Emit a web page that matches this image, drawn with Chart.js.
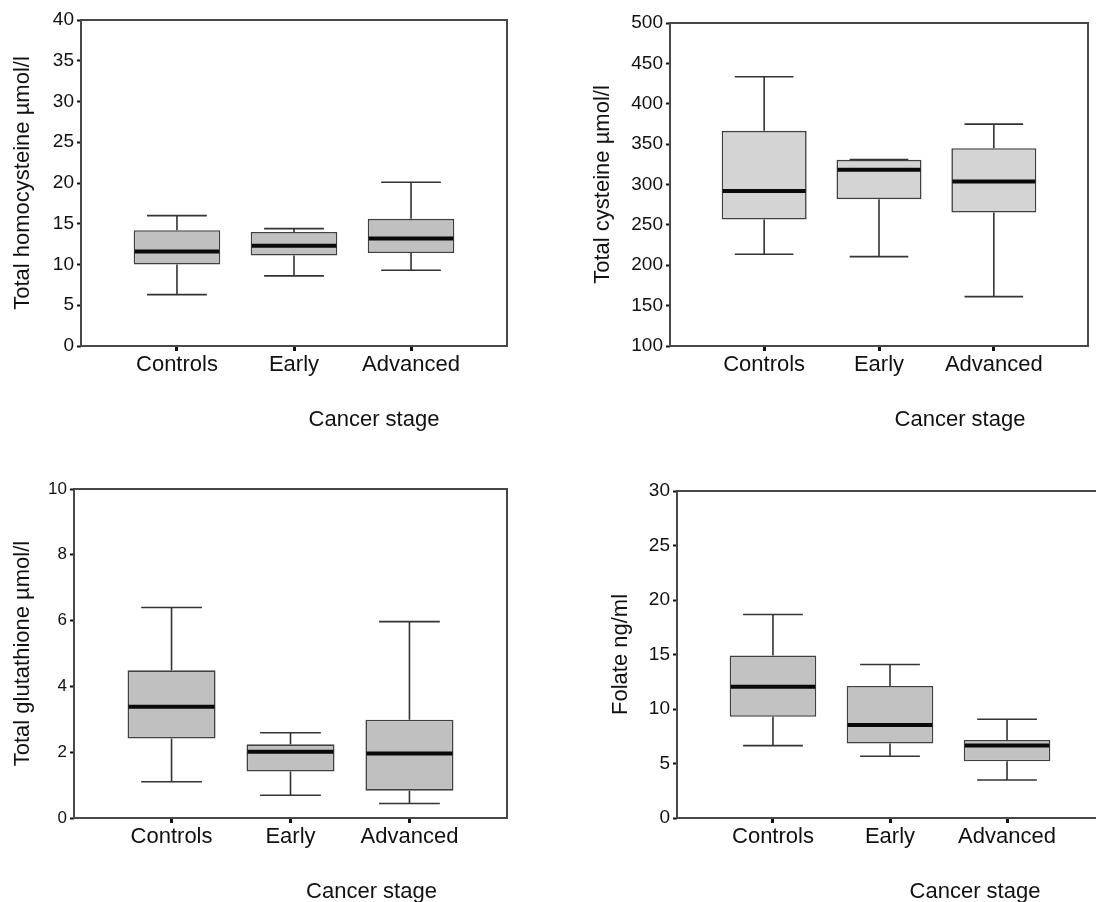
<!DOCTYPE html>
<html>
<head>
<meta charset="utf-8">
<title>Cancer stage box plots</title>
<script src="https://cdn.jsdelivr.net/npm/chart.js@4.4.1/dist/chart.umd.min.js"></script>
<style>
    html, body { margin: 0; padding: 0; background: #fff; width: 1096px; height: 902px; overflow: hidden; position: relative; }
    canvas { position: absolute; }
</style>
</head>
<body>
<canvas id="homocysteineChart" width="548" height="440" style="left:0px;top:0px"></canvas>
<canvas id="cysteineChart" width="540" height="440" style="left:560px;top:0px"></canvas>
<canvas id="glutathioneChart" width="548" height="462" style="left:0px;top:440px"></canvas>
<canvas id="folateChart" width="560" height="462" style="left:560px;top:440px"></canvas>
<script>
var stages = ['Controls', 'Early', 'Advanced'];

// whisker low, Q1, median, Q3, whisker high per stage
var hcyLow = [6.3, 8.6, 9.3];
var hcyQ1 = [10.0, 11.1, 11.4];
var hcyMedian = [11.6, 12.3, 13.2];
var hcyQ3 = [14.2, 14.0, 15.6];
var hcyHigh = [16.0, 14.4, 20.1];

var cysLow = [213.6, 210.7, 161.2];
var cysQ1 = [256.6, 281.8, 265.3];
var cysMedian = [292.1, 318.2, 303.7];
var cysQ3 = [366.5, 330.6, 345.0];
var cysHigh = [433.5, 331.0, 374.8];

var gshLow = [1.10, 0.69, 0.44];
var gshQ1 = [2.42, 1.41, 0.83];
var gshMedian = [3.38, 2.01, 1.96];
var gshQ3 = [4.49, 2.24, 2.99];
var gshHigh = [6.40, 2.59, 5.97];

var folLow = [6.64, 5.66, 3.49];
var folQ1 = [9.28, 6.83, 5.20];
var folMedian = [12.03, 8.54, 6.64];
var folQ3 = [14.91, 12.12, 7.16];
var folHigh = [18.67, 14.08, 9.06];

var fontFamily = "'Liberation Sans', Arial, Helvetica, sans-serif";
var textColor = '#111';

// whiskers, caps, median and the frame, all placed from the bar elements and the y scale
var boxWhiskers = {
    id: 'boxWhiskers',
    beforeDatasetsDraw: function(chart) {
        var a = chart.chartArea;
        var ctx = chart.ctx;
        ctx.save();
        ctx.strokeStyle = '#484848';
        ctx.lineWidth = 2;
        ctx.strokeRect(a.left, a.top, a.right - a.left, a.bottom - a.top);
        ctx.restore();
    },
    afterDatasetsDraw: function(chart) {
        var ds = chart.data.datasets[0];
        var meta = chart.getDatasetMeta(0);
        var yScale = chart.scales.y;
        var ctx = chart.ctx;
        ctx.save();
        meta.data.forEach(function(bar, i) {
            var half = bar.width / 2;
            var cap = half * 0.69;
            var yLow = yScale.getPixelForValue(ds.whiskerLow[i]);
            var yQ1 = yScale.getPixelForValue(ds.data[i].y[0]);
            var yQ3 = yScale.getPixelForValue(ds.data[i].y[1]);
            var yHigh = yScale.getPixelForValue(ds.whiskerHigh[i]);
            var yMed = yScale.getPixelForValue(ds.median[i]);

            ctx.strokeStyle = '#333';
            ctx.lineWidth = 1.6;
            ctx.beginPath();
            ctx.moveTo(bar.x, yQ3);
            ctx.lineTo(bar.x, yHigh);
            ctx.moveTo(bar.x - cap, yHigh);
            ctx.lineTo(bar.x + cap, yHigh);
            ctx.moveTo(bar.x, yQ1);
            ctx.lineTo(bar.x, yLow);
            ctx.moveTo(bar.x - cap, yLow);
            ctx.lineTo(bar.x + cap, yLow);
            ctx.stroke();

            ctx.strokeStyle = '#0a0a0a';
            ctx.lineWidth = 4;
            ctx.beginPath();
            ctx.moveTo(bar.x - half + 1, yMed);
            ctx.lineTo(bar.x + half - 1, yMed);
            ctx.stroke();
        });
        ctx.restore();
    },
    afterDraw: function(chart, args, options) {
        var a = chart.chartArea;
        var ctx = chart.ctx;
        ctx.save();
        ctx.fillStyle = textColor;
        ctx.font = '22px ' + fontFamily;
        ctx.textAlign = 'center';
        ctx.textBaseline = 'middle';
        ctx.fillText(options.text, (a.left + a.right) / 2 + options.offsetX, a.bottom + options.offsetY);
        ctx.restore();
    }
};

function createBoxChart(canvasId, p) {
    var ctx = document.getElementById(canvasId).getContext('2d');
    var edge = 0.82;
    new Chart(ctx, {
        type: 'bar',
        data: {
            datasets: [{
                label: p.title,
                data: p.q1.map(function(v, i) { return {x: i + 1, y: [v, p.q3[i]]}; }),
                whiskerLow: p.low,
                whiskerHigh: p.high,
                median: p.median,
                backgroundColor: p.fill,
                borderColor: '#404040',
                borderWidth: 1.6,
                borderSkipped: false,
                categoryPercentage: 1,
                barPercentage: 0.74
            }]
        },
        options: {
            responsive: false,
            animation: false,
            devicePixelRatio: 1,
            events: [],
            layout: { padding: p.padding },
            plugins: {
                legend: { display: false },
                tooltip: { enabled: false },
                boxWhiskers: { text: 'Cancer stage', offsetX: p.stageOffset, offsetY: 74 }
            },
            scales: {
                x: {
                    type: 'linear',
                    min: 1 - edge,
                    max: stages.length + edge,
                    offset: false,
                    afterBuildTicks: function(scale) {
                        scale.ticks = stages.map(function(s, i) { return {value: i + 1}; });
                    },
                    afterFit: function(scale) { scale.height = p.xHeight; },
                    ticks: {
                        autoSkip: false,
                        maxRotation: 0,
                        padding: 1,
                        color: textColor,
                        font: { family: fontFamily, size: 22 },
                        callback: function(v) { return stages[v - 1]; }
                    },
                    grid: {
                        offset: false,
                        drawOnChartArea: false,
                        tickLength: 5,
                        tickWidth: 3,
                        color: '#111',
                        tickColor: '#111'
                    },
                    border: { display: false }
                },
                y: {
                    min: p.min,
                    max: p.max,
                    afterFit: function(scale) { scale.width = p.yWidth; },
                    ticks: {
                        stepSize: p.step,
                        padding: 3,
                        color: textColor,
                        font: { family: fontFamily, size: p.tickSize }
                    },
                    grid: {
                        drawOnChartArea: false,
                        tickLength: 4,
                        tickWidth: 2,
                        color: '#111',
                        tickColor: '#111'
                    },
                    border: { display: false },
                    title: {
                        display: true,
                        text: p.title,
                        color: textColor,
                        font: { family: fontFamily, size: 22 },
                        padding: { top: p.titlePad, bottom: 0 }
                    }
                }
            }
        },
        plugins: [boxWhiskers]
    });
}

createBoxChart('homocysteineChart', {
    title: 'Total homocysteine µmol/l',
    low: hcyLow, q1: hcyQ1, median: hcyMedian, q3: hcyQ3, high: hcyHigh,
    min: 0, max: 40, step: 5, tickSize: 19,
    fill: '#c0c0c0',
    padding: { top: 20, right: 41, left: 0, bottom: 0 },
    yWidth: 81, xHeight: 94, titlePad: 10, stageOffset: 80
});

createBoxChart('cysteineChart', {
    title: 'Total cysteine µmol/l',
    low: cysLow, q1: cysQ1, median: cysMedian, q3: cysQ3, high: cysHigh,
    min: 100, max: 500, step: 50, tickSize: 19,
    fill: '#d4d4d4',
    padding: { top: 23, right: 12, left: 0, bottom: 0 },
    yWidth: 110, xHeight: 94, titlePad: 30, stageOffset: 81
});

createBoxChart('glutathioneChart', {
    title: 'Total glutathione µmol/l',
    low: gshLow, q1: gshQ1, median: gshMedian, q3: gshQ3, high: gshHigh,
    min: 0, max: 10, step: 2, tickSize: 17,
    fill: '#c0c0c0',
    padding: { top: 49, right: 41, left: 0, bottom: 0 },
    yWidth: 74, xHeight: 84, titlePad: 10, stageOffset: 81
});

createBoxChart('folateChart', {
    title: 'Folate ng/ml',
    low: folLow, q1: folQ1, median: folMedian, q3: folQ3, high: folHigh,
    min: 0, max: 30, step: 5, tickSize: 19,
    fill: '#c2c2c2',
    padding: { top: 51, right: 17, left: 0, bottom: 0 },
    yWidth: 117, xHeight: 84, titlePad: 48, stageOffset: 85
});
</script>
</body>
</html>
